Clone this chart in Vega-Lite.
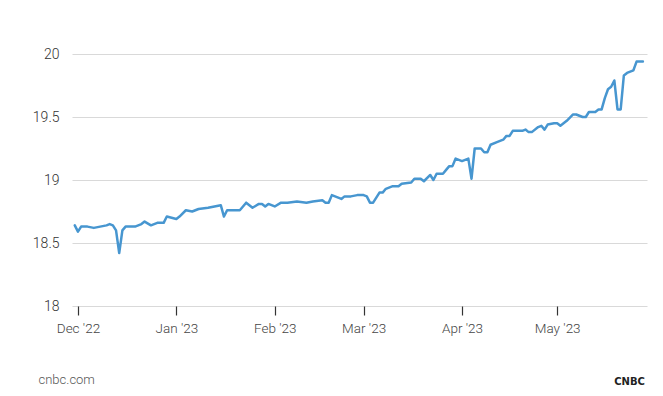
{
  "$schema": "https://vega.github.io/schema/vega-lite/v6.json",
  "autosize": "none",
  "width": 575,
  "height": 252,
  "padding": {"left": 72, "top": 54, "right": 16, "bottom": 90},
  "background": "#ffffff",
  "config": {"view": {"stroke": null}, "font": "Roboto"},
  "data": {"values": [
    {"date": "2022-11-30", "value": 18.64},
    {"date": "2022-12-01", "value": 18.59},
    {"date": "2022-12-02", "value": 18.63},
    {"date": "2022-12-04", "value": 18.63},
    {"date": "2022-12-06", "value": 18.62},
    {"date": "2022-12-08", "value": 18.63},
    {"date": "2022-12-10", "value": 18.64},
    {"date": "2022-12-11", "value": 18.65},
    {"date": "2022-12-12", "value": 18.64},
    {"date": "2022-12-13", "value": 18.60},
    {"date": "2022-12-14", "value": 18.42},
    {"date": "2022-12-15", "value": 18.60},
    {"date": "2022-12-16", "value": 18.63},
    {"date": "2022-12-19", "value": 18.63},
    {"date": "2022-12-21", "value": 18.65},
    {"date": "2022-12-22", "value": 18.67},
    {"date": "2022-12-24", "value": 18.64},
    {"date": "2022-12-26", "value": 18.66},
    {"date": "2022-12-28", "value": 18.66},
    {"date": "2022-12-29", "value": 18.71},
    {"date": "2023-01-01", "value": 18.69},
    {"date": "2023-01-02", "value": 18.71},
    {"date": "2023-01-04", "value": 18.76},
    {"date": "2023-01-06", "value": 18.75},
    {"date": "2023-01-08", "value": 18.77},
    {"date": "2023-01-11", "value": 18.78},
    {"date": "2023-01-13", "value": 18.79},
    {"date": "2023-01-15", "value": 18.80},
    {"date": "2023-01-16", "value": 18.71},
    {"date": "2023-01-17", "value": 18.76},
    {"date": "2023-01-21", "value": 18.76},
    {"date": "2023-01-23", "value": 18.82},
    {"date": "2023-01-25", "value": 18.78},
    {"date": "2023-01-27", "value": 18.81},
    {"date": "2023-01-28", "value": 18.81},
    {"date": "2023-01-29", "value": 18.79},
    {"date": "2023-01-30", "value": 18.81},
    {"date": "2023-02-01", "value": 18.79},
    {"date": "2023-02-03", "value": 18.82},
    {"date": "2023-02-05", "value": 18.82},
    {"date": "2023-02-08", "value": 18.83},
    {"date": "2023-02-11", "value": 18.82},
    {"date": "2023-02-13", "value": 18.83},
    {"date": "2023-02-16", "value": 18.84},
    {"date": "2023-02-17", "value": 18.82},
    {"date": "2023-02-18", "value": 18.82},
    {"date": "2023-02-19", "value": 18.88},
    {"date": "2023-02-22", "value": 18.85},
    {"date": "2023-02-23", "value": 18.87},
    {"date": "2023-02-25", "value": 18.87},
    {"date": "2023-02-27", "value": 18.88},
    {"date": "2023-03-01", "value": 18.88},
    {"date": "2023-03-02", "value": 18.87},
    {"date": "2023-03-03", "value": 18.82},
    {"date": "2023-03-04", "value": 18.82},
    {"date": "2023-03-06", "value": 18.90},
    {"date": "2023-03-07", "value": 18.90},
    {"date": "2023-03-08", "value": 18.93},
    {"date": "2023-03-10", "value": 18.95},
    {"date": "2023-03-12", "value": 18.95},
    {"date": "2023-03-13", "value": 18.97},
    {"date": "2023-03-16", "value": 18.98},
    {"date": "2023-03-17", "value": 19.01},
    {"date": "2023-03-19", "value": 19.01},
    {"date": "2023-03-20", "value": 18.99},
    {"date": "2023-03-22", "value": 19.04},
    {"date": "2023-03-23", "value": 19.00},
    {"date": "2023-03-24", "value": 19.05},
    {"date": "2023-03-26", "value": 19.05},
    {"date": "2023-03-27", "value": 19.08},
    {"date": "2023-03-28", "value": 19.11},
    {"date": "2023-03-29", "value": 19.11},
    {"date": "2023-03-30", "value": 19.17},
    {"date": "2023-04-01", "value": 19.15},
    {"date": "2023-04-03", "value": 19.17},
    {"date": "2023-04-04", "value": 19.01},
    {"date": "2023-04-05", "value": 19.25},
    {"date": "2023-04-07", "value": 19.25},
    {"date": "2023-04-08", "value": 19.22},
    {"date": "2023-04-09", "value": 19.22},
    {"date": "2023-04-10", "value": 19.28},
    {"date": "2023-04-12", "value": 19.30},
    {"date": "2023-04-13", "value": 19.31},
    {"date": "2023-04-14", "value": 19.32},
    {"date": "2023-04-15", "value": 19.35},
    {"date": "2023-04-16", "value": 19.35},
    {"date": "2023-04-17", "value": 19.39},
    {"date": "2023-04-19", "value": 19.39},
    {"date": "2023-04-20", "value": 19.39},
    {"date": "2023-04-21", "value": 19.40},
    {"date": "2023-04-22", "value": 19.38},
    {"date": "2023-04-23", "value": 19.38},
    {"date": "2023-04-25", "value": 19.42},
    {"date": "2023-04-26", "value": 19.43},
    {"date": "2023-04-27", "value": 19.40},
    {"date": "2023-04-28", "value": 19.44},
    {"date": "2023-04-30", "value": 19.45},
    {"date": "2023-05-01", "value": 19.45},
    {"date": "2023-05-02", "value": 19.43},
    {"date": "2023-05-03", "value": 19.45},
    {"date": "2023-05-04", "value": 19.47},
    {"date": "2023-05-06", "value": 19.52},
    {"date": "2023-05-07", "value": 19.52},
    {"date": "2023-05-09", "value": 19.50},
    {"date": "2023-05-10", "value": 19.50},
    {"date": "2023-05-11", "value": 19.54},
    {"date": "2023-05-13", "value": 19.54},
    {"date": "2023-05-14", "value": 19.56},
    {"date": "2023-05-15", "value": 19.56},
    {"date": "2023-05-16", "value": 19.65},
    {"date": "2023-05-17", "value": 19.72},
    {"date": "2023-05-18", "value": 19.74},
    {"date": "2023-05-19", "value": 19.79},
    {"date": "2023-05-20", "value": 19.56},
    {"date": "2023-05-21", "value": 19.56},
    {"date": "2023-05-22", "value": 19.83},
    {"date": "2023-05-23", "value": 19.85},
    {"date": "2023-05-25", "value": 19.87},
    {"date": "2023-05-26", "value": 19.94},
    {"date": "2023-05-28", "value": 19.94}
  ]},
  "mark": {"type": "line", "color": "#4796d0", "strokeWidth": 2.5, "strokeJoin": "round", "strokeCap": "round", "clip": false},
  "encoding": {
    "x": {
      "field": "date",
      "type": "temporal",
      "scale": {"domain": ["2022-11-29T03:00:00", "2023-05-29T07:00:00"]},
      "axis": {
        "format": "%b '%y",
        "tickCount": {"interval": "month", "step": 1},
        "grid": false,
        "domain": false,
        "ticks": true,
        "tickSize": 9,
        "tickColor": "#333333",
        "tickWidth": 1.2,
        "labelFont": "Roboto",
        "labelFontSize": 13.5,
        "labelFontWeight": 300,
        "labelColor": "#444444",
        "labelPadding": 6,
        "labelFlush": false,
        "labelOverlap": false,
        "title": "cnbc.com",
        "titleFont": "Roboto",
        "titleFontSize": 13,
        "titleFontWeight": 300,
        "titleColor": "#555555",
        "titleX": -34,
        "titleY": 77,
        "titleAlign": "left",
        "titleBaseline": "alphabetic",
        "titleAnchor": "start"
      }
    },
    "y": {
      "field": "value",
      "type": "quantitative",
      "scale": {"domain": [18, 20], "zero": false},
      "axis": {
        "values": [18, 18.5, 19, 19.5, 20],
        "format": "~g",
        "grid": true,
        "gridColor": "#d9d9d9",
        "gridWidth": 1,
        "domain": false,
        "ticks": false,
        "labelFont": "Roboto",
        "labelFontSize": 14,
        "labelFontWeight": 300,
        "labelColor": "#333333",
        "labelPadding": 13,
        "labelBaseline": "middle",
        "title": "CNBC",
        "titleFont": "DejaVu Sans",
        "titleFontSize": 10,
        "titleFontWeight": "bold",
        "titleColor": "#222222",
        "titleAngle": 0,
        "titleX": 557,
        "titleY": 330,
        "titleAlign": "center",
        "titleBaseline": "alphabetic"
      }
    }
  }
}
